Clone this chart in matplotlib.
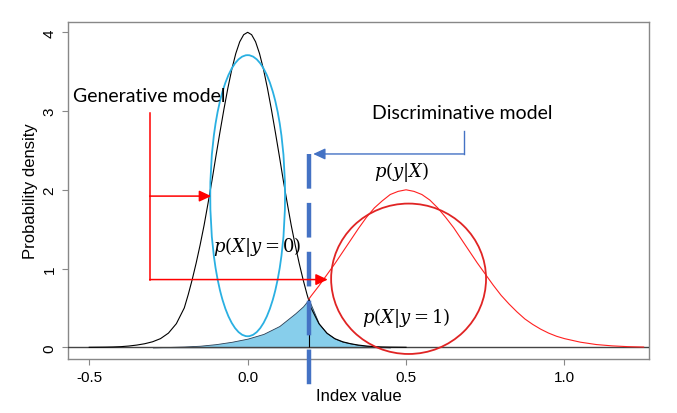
import matplotlib
matplotlib.use("Agg")
import matplotlib.pyplot as plt
from matplotlib.patches import Ellipse

# ---- data ----
black_x = [-0.5, -0.45, -0.425, -0.4, -0.375, -0.35, -0.325, -0.3, -0.275, -0.25, -0.225, -0.2,
           -0.1875, -0.175, -0.1625, -0.15, -0.1375, -0.125, -0.1125, -0.1, -0.0875, -0.075,
           -0.0625, -0.05, -0.0375, -0.025, -0.0125, 0.0, 0.0125, 0.025, 0.0375, 0.05, 0.0625,
           0.075, 0.0875, 0.1, 0.1125, 0.125, 0.1375, 0.15, 0.1625, 0.175, 0.1875, 0.2, 0.225,
           0.25, 0.275, 0.3, 0.325, 0.35, 0.375, 0.4, 0.425, 0.45, 0.5]
black_y = [0.0, 0.002, 0.004, 0.008, 0.016, 0.028, 0.045, 0.07, 0.11, 0.18, 0.30, 0.50,
           0.67, 0.86, 1.07, 1.30, 1.55, 1.83, 2.12, 2.43, 2.73, 3.02,
           3.29, 3.53, 3.73, 3.88, 3.97, 4.00, 3.97, 3.88, 3.73, 3.53, 3.29,
           3.02, 2.73, 2.43, 2.12, 1.83, 1.55, 1.30, 1.07, 0.86, 0.67, 0.50, 0.30,
           0.18, 0.11, 0.07, 0.045, 0.028, 0.016, 0.008, 0.004, 0.002, 0.0]

red_x = [0.193, 0.2, 0.225, 0.25, 0.275, 0.3, 0.325, 0.35, 0.375, 0.4, 0.425, 0.45, 0.475, 0.5,
         0.525, 0.55, 0.575, 0.6, 0.625, 0.65, 0.675, 0.7, 0.725, 0.75, 0.775, 0.8, 0.825,
         0.85, 0.875, 0.9, 0.925, 0.95, 0.975, 1.0, 1.05, 1.1, 1.15, 1.2, 1.25]
red_y = [0.61, 0.65, 0.78, 0.92, 1.06, 1.21, 1.36, 1.51, 1.65, 1.77, 1.86, 1.94, 1.98, 2.0,
         1.98, 1.94, 1.87, 1.77, 1.65, 1.52, 1.37, 1.22, 1.07, 0.93, 0.79, 0.66, 0.55,
         0.45, 0.36, 0.29, 0.23, 0.18, 0.14, 0.11, 0.065, 0.035, 0.018, 0.008, 0.003]

fill_x = [-0.3, -0.25, -0.2, -0.15, -0.1, -0.05, 0.0, 0.05, 0.1, 0.125, 0.15, 0.175, 0.193,
          0.2, 0.2125, 0.225, 0.25, 0.275, 0.3, 0.35, 0.4, 0.45]
fill_y = [0.0, 0.004, 0.01, 0.02, 0.04, 0.07, 0.11, 0.17, 0.27, 0.35, 0.43, 0.52, 0.61,
          0.54, 0.42, 0.30, 0.18, 0.11, 0.07, 0.028, 0.008, 0.0]

boundary_x = 0.193
boundary_y = 0.61

x_ticks = [-0.5, 0.0, 0.5, 1.0]
x_tick_labels = ["-0.5", "0.0", "0.5", "1.0"]
y_ticks = [0, 1, 2, 3, 4]
y_tick_labels = ["0", "1", "2", "3", "4"]

plt.rcParams["font.family"] = ["Liberation Sans", "DejaVu Sans"]
plt.rcParams["mathtext.fontset"] = "dejavuserif"

fig = plt.figure(figsize=(6.77, 4.14), dpi=100)
ax = fig.add_axes([0.1, 0.1304, 0.8587, 0.8148])
ax.set_xlim(-0.568, 1.267)
ax.set_ylim(-0.149, 4.135)

# shaded overlap
ax.fill_between(fill_x, 0, fill_y, facecolor="#87CEEB", edgecolor="#2b3f55", linewidth=0.6, zorder=2)
# baseline
ax.axhline(0, color="#444444", lw=1.0, zorder=3)
# curves
ax.plot(black_x, black_y, color="black", lw=0.8, zorder=4, solid_joinstyle="round")
ax.plot(red_x, red_y, color="#FF2020", lw=0.8, zorder=4, solid_joinstyle="round")
ax.vlines(boundary_x, 0, boundary_y, color="black", lw=0.8, zorder=4)

# dashed decision boundary
ax.plot([boundary_x, boundary_x], [2.45, -0.504], color="#4472C4", lw=3.2,
        dashes=(7.8, 3.2), clip_on=False, zorder=5, solid_capstyle="butt",
        dash_capstyle="butt")

# ellipses
ax.add_patch(Ellipse((0.0, 1.925), 0.236, 3.57, fill=False, edgecolor="#2AB0E2", lw=1.3, zorder=5))
ax.add_patch(Ellipse((0.508, 0.87), 0.489, 1.91, fill=False, edgecolor="#E02424", lw=1.3, zorder=5))

# red arrows (generative model)
red_arrow = "#FF0000"
ax.plot([-0.309, -0.309], [2.98, 0.86], color=red_arrow, lw=1.1, zorder=6)
ap = dict(arrowstyle="-|>,head_length=0.6,head_width=0.28", color=red_arrow, lw=1.1,
          shrinkA=0, shrinkB=0, mutation_scale=12)
ax.annotate("", xy=(-0.115, 1.92), xytext=(-0.309, 1.92), arrowprops=ap, zorder=6)
ax.annotate("", xy=(0.253, 0.86), xytext=(-0.309, 0.86), arrowprops=ap, zorder=6)

# blue arrow (discriminative model)
blue_arrow = "#4472C4"
ax.plot([0.682, 0.682], [2.75, 2.455], color=blue_arrow, lw=1.0, zorder=6)
apb = dict(arrowstyle="-|>,head_length=0.6,head_width=0.28", color=blue_arrow, lw=1.0,
           shrinkA=0, shrinkB=0, mutation_scale=12)
ax.annotate("", xy=(0.207, 2.455), xytext=(0.682, 2.455), arrowprops=apb, zorder=6)

# texts
ann_font = ["Lato", "DejaVu Sans"]
ax.text(-0.552, 3.195, "Generative model", fontsize=14, family=ann_font, va="center", ha="left", zorder=7)
ax.text(0.394, 2.98, "Discriminative model", fontsize=14, family=ann_font, va="center", ha="left", zorder=7)
ax.text(0.485, 2.24, r"$p(y|X)$", fontsize=13, va="center", ha="center", zorder=7)
ax.text(0.03, 1.29, r"$p(X|y=0)$", fontsize=13, va="center", ha="center", zorder=7)
ax.text(0.5, 0.38, r"$p(X|y=1)$", fontsize=13, va="center", ha="center", zorder=7)

# axes styling (R-like)
for s in ax.spines.values():
    s.set_color("#888888")
    s.set_linewidth(1.0)
ax.set_xticks(x_ticks)
ax.set_xticklabels(x_tick_labels)
ax.set_yticks(y_ticks)
ax.set_yticklabels(y_tick_labels, rotation=90, va="center")
ax.tick_params(axis="both", direction="out", length=4, width=0.8, color="#888888",
               labelsize=11, pad=4)
ax.set_xlabel("Index value", fontsize=12, labelpad=3)
ax.set_ylabel("Probability density", fontsize=12, labelpad=3)

fig.savefig("out.png", dpi=100)
